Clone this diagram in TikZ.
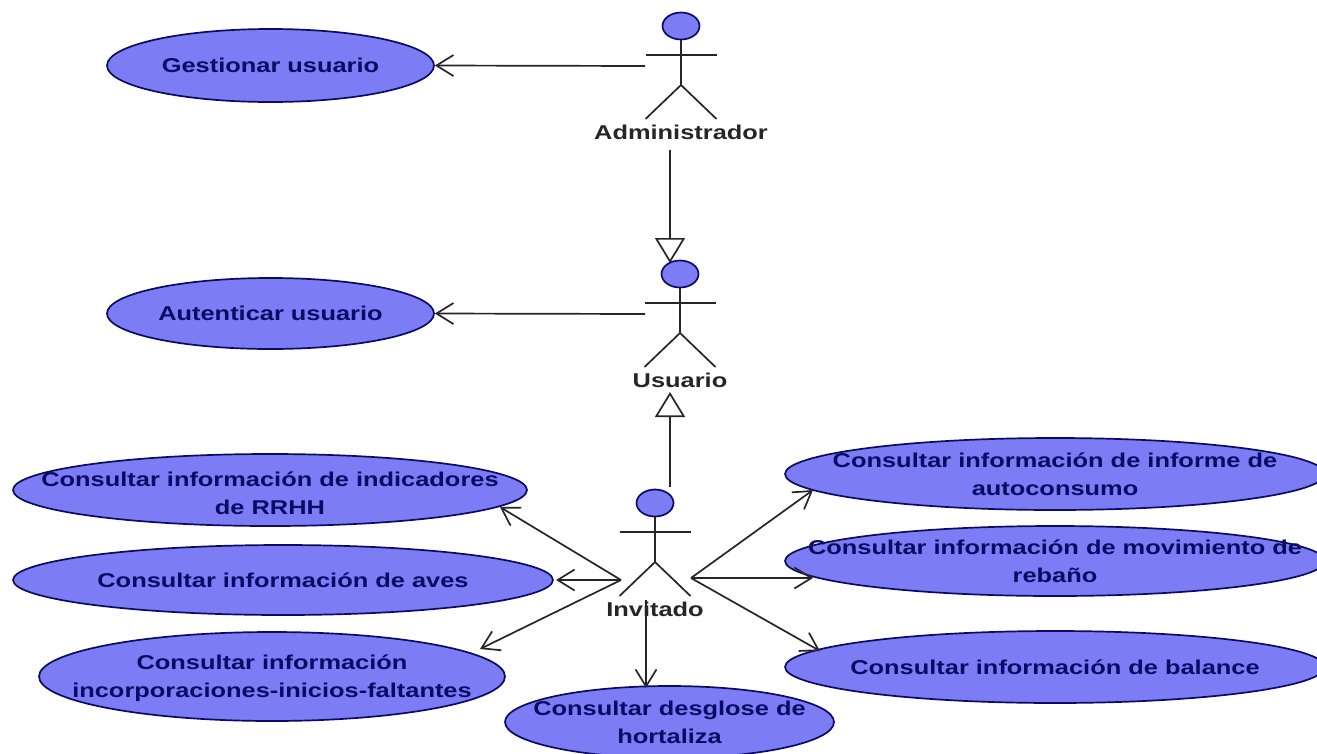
\documentclass[tikz,border=0pt]{standalone}
\usepackage{fontspec}
\setmainfont{Liberation Sans}
\newfontfamily\widefont[FakeStretch=1.27]{Liberation Sans}
\usetikzlibrary{shapes.geometric}
\usetikzlibrary{arrows.meta}
\definecolor{usefill}{HTML}{7C7CF4}
\definecolor{usetext}{HTML}{0B0B66}
\tikzset{
    usecase/.style={ellipse, draw=usetext, fill=usefill, line width=1.7pt, inner sep=0pt},
    usetitle/.style={text=usetext, align=center, inner sep=0pt,
        font=\widefont\bfseries\fontsize{20}{28}\selectfont},
    actorhead/.style={ellipse, draw=usetext, fill=usefill, line width=1.7pt, inner sep=0pt,
        minimum width=37pt, minimum height=27pt},
    actorname/.style={text=black!85, font=\widefont\bfseries\fontsize{20}{22}\selectfont, inner sep=0pt},
    actorline/.style={draw=black!85, line width=1.7pt},
    assoc/.style={draw=black!85, line width=1.7pt, -{Straight Barb[length=17pt,width=21pt,line width=1.7pt]}},
    inherit/.style={draw=black!85, line width=1.7pt, -{Triangle[open,length=25pt,width=30pt,line width=1.7pt]}}
}
% stick figure: name, x of the body, y of the head centre, label
\newcommand{\actor}[4]{
  \node[actorhead] (#1head) at (#2,#3) {};
  \coordinate (#1hip) at (#2,#3+59);
  \coordinate (#1armL) at (#2-35.5,#3+29);
  \coordinate (#1armR) at (#2+35.5,#3+29);
  \coordinate (#1footL) at (#2-35.5,#3+93);
  \coordinate (#1footR) at (#2+35.5,#3+93);
  \draw[actorline] (#1head.south) -- (#1hip);
  \draw[actorline] (#1armL) -- (#1armR);
  \draw[actorline] (#1footL) -- (#1hip) -- (#1footR);
  \node[actorname] (#1) at (#2,#3+106) {#4};
}
\begin{document}
\begin{tikzpicture}[x=1pt,y=-1pt]
\useasboundingbox (0,0) rectangle (1317,753);
\fill[white] (0,0) rectangle (1317,753);

% use cases
\node[usecase, minimum width=327pt, minimum height=73pt] (gestionar) at (270.5,65.5) {};
\node[usecase, minimum width=327pt, minimum height=71pt] (autenticar) at (270.5,313.5) {};
\node[usecase, minimum width=514pt, minimum height=72pt] (rrhh) at (270,490) {};
\node[usecase, minimum width=540pt, minimum height=70pt] (aves) at (283,580) {};
\node[usecase, minimum width=466pt, minimum height=89pt] (incorp) at (272,676.5) {};
\node[usecase, minimum width=329pt, minimum height=72pt] (desglose) at (669.5,722) {};
\node[usecase, minimum width=540pt, minimum height=72pt] (informe) at (1055,474) {};
\node[usecase, minimum width=540pt, minimum height=70pt] (rebano) at (1055,561) {};
\node[usecase, minimum width=540pt, minimum height=72pt] (balance) at (1055,667) {};

\node[usetitle] (gestionartxt) at (gestionar) {Gestionar usuario};
\node[usetitle] (autenticartxt) at (autenticar) {Autenticar usuario};
\node[usetitle, yshift=-3pt] (rrhhtxt) at (rrhh) {Consultar información de indicadores\\de RRHH};
\node[usetitle] (avestxt) at (aves) {Consultar información de aves};
\node[usetitle, yshift=-2pt] (incorptxt) at (incorp) {Consultar información\\incorporaciones-inicios-faltantes};
\node[usetitle] (desglosetxt) at (desglose) {Consultar desglose de\\hortaliza};
\node[usetitle] (informetxt) at (informe) {Consultar información de informe de\\autoconsumo};
\node[usetitle] (rebanotxt) at (rebano) {Consultar información de movimiento de\\rebaño};
\node[usetitle] (balancetxt) at (balance) {Consultar información de balance};

% actors
\actor{admin}{681}{26}{Administrador}
\actor{usuario}{680}{274}{Usuario}
\actor{invitado}{655}{503}{Invitado}

% free ends of the connectors
\coordinate (adminout) at (645,66);
\coordinate (usuarioout) at (645,314);
\coordinate (invleft) at (621,580);
\coordinate (invright) at (691,578);
\coordinate (invdown) at (646,600);
\coordinate (adminbase) at (670,150);
\coordinate (usuariotop) at (670,263);
\coordinate (invtop) at (670,487);
\coordinate (usuariobase) at (670,392);
\coordinate (aveshit) at (556,580);
\coordinate (rrhhhit) at (500,507);
\coordinate (incorphit) at (480,649);
\coordinate (desglosehit) at (646,688);
\coordinate (informehit) at (813,490);
\coordinate (rebanohit) at (813,578);
\coordinate (balancehit) at (820,651);

\draw[assoc] (adminout) -- (gestionar.east);
\draw[assoc] (usuarioout) -- (autenticar.east);
\draw[inherit] (adminbase) -- (usuariotop);
\draw[inherit] (invtop) -- (usuariobase);
\draw[assoc] (invleft) -- (rrhhhit);
\draw[assoc] (invleft) -- (aveshit);
\draw[assoc] (invleft) -- (incorphit);
\draw[assoc] (invdown) -- (desglosehit);
\draw[assoc] (invright) -- (informehit);
\draw[assoc] (invright) -- (rebanohit);
\draw[assoc] (invright) -- (balancehit);
\end{tikzpicture}
\end{document}
